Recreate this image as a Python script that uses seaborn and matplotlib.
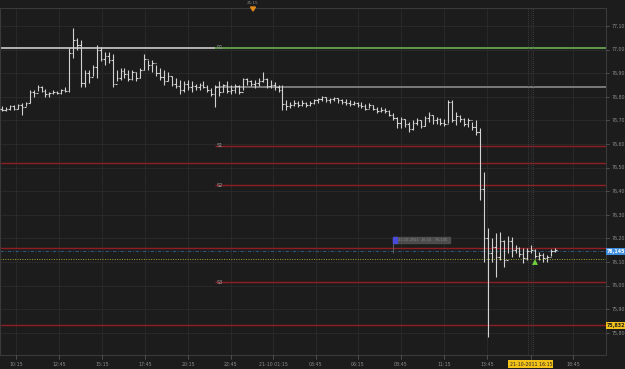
import matplotlib
matplotlib.use("Agg")
import matplotlib.pyplot as plt
import numpy as np
import pandas as pd
import seaborn as sns

# ---------------- data ----------------
high = [76.76, 76.755, 76.765, 76.765, 76.77, 76.775, 76.78, 76.83, 76.83, 76.85,
        76.845, 76.835, 76.82, 76.83, 76.825, 76.835, 76.84, 77.005, 77.09, 77.05,
        77.04, 76.915, 76.915, 76.935, 77.02, 77.01, 76.99, 76.99, 76.98, 76.915,
        76.92, 76.92, 76.915, 76.915, 76.905, 76.92, 76.98, 76.955, 76.955, 76.935,
        76.92, 76.915, 76.905, 76.89, 76.88, 76.87, 76.865, 76.87, 76.865, 76.855,
        76.86, 76.865, 76.85, 76.837, 76.85, 76.865, 76.855, 76.865, 76.85, 76.855,
        76.85, 76.88, 76.88, 76.87, 76.87, 76.88, 76.905, 76.88, 76.87, 76.863,
        76.85, 76.85, 76.786, 76.778, 76.786, 76.782, 76.786, 76.778, 76.782, 76.791,
        76.795, 76.803, 76.799, 76.795, 76.799, 76.795, 76.791, 76.791, 76.786, 76.782,
        76.778, 76.778, 76.769, 76.774, 76.765, 76.757, 76.757, 76.753, 76.744, 76.731,
        76.714, 76.714, 76.706, 76.693, 76.702, 76.71, 76.702, 76.719, 76.736, 76.723,
        76.714, 76.71, 76.706, 76.786, 76.786, 76.736, 76.723, 76.71, 76.71, 76.693,
        76.702, 76.668, 76.481, 76.244, 76.20, 76.223, 76.227, 76.193, 76.21, 76.206,
        76.172, 76.164, 76.158, 76.158, 76.172, 76.153, 76.142, 76.139, 76.13, 76.153,
        76.158]
low = [76.74, 76.74, 76.745, 76.745, 76.75, 76.725, 76.76, 76.775, 76.80, 76.825,
       76.82, 76.80, 76.80, 76.81, 76.81, 76.81, 76.82, 76.82, 76.965, 77.00,
       76.84, 76.84, 76.86, 76.89, 76.88, 76.95, 76.935, 76.945, 76.84, 76.865,
       76.87, 76.88, 76.865, 76.87, 76.865, 76.88, 76.915, 76.915, 76.905, 76.89,
       76.87, 76.85, 76.865, 76.845, 76.837, 76.81, 76.82, 76.83, 76.82, 76.83,
       76.83, 76.837, 76.82, 76.805, 76.757, 76.805, 76.82, 76.815, 76.81, 76.815,
       76.81, 76.83, 76.85, 76.845, 76.837, 76.845, 76.863, 76.837, 76.837, 76.83,
       76.82, 76.744, 76.744, 76.753, 76.761, 76.757, 76.761, 76.757, 76.761, 76.769,
       76.774, 76.782, 76.778, 76.774, 76.782, 76.774, 76.769, 76.765, 76.761, 76.765,
       76.757, 76.753, 76.744, 76.753, 76.744, 76.731, 76.736, 76.731, 76.719, 76.702,
       76.668, 76.668, 76.672, 76.651, 76.659, 76.681, 76.668, 76.676, 76.693, 76.685,
       76.685, 76.681, 76.676, 76.689, 76.693, 76.681, 76.693, 76.676, 76.672, 76.659,
       76.638, 76.363, 76.10, 75.782, 76.10, 76.036, 76.108, 76.079, 76.139, 76.121,
       76.139, 76.121, 76.096, 76.108, 76.139, 76.117, 76.108, 76.10, 76.10, 76.125,
       76.142]
open_ = [76.75, 76.745, 76.75, 76.76, 76.75, 76.765, 76.755, 76.775, 76.82, 76.815,
         76.84, 76.825, 76.81, 76.815, 76.82, 76.815, 76.83, 76.825, 76.985, 77.04,
         77.02, 76.86, 76.90, 76.885, 76.925, 77.00, 76.96, 76.975, 76.955, 76.855,
         76.88, 76.91, 76.895, 76.875, 76.905, 76.88, 76.915, 76.96, 76.935, 76.945,
         76.90, 76.885, 76.865, 76.89, 76.855, 76.845, 76.83, 76.855, 76.84, 76.845,
         76.84, 76.85, 76.84, 76.83, 76.81, 76.84, 76.82, 76.85, 76.825, 76.83,
         76.845, 76.82, 76.875, 76.865, 76.855, 76.86, 76.865, 76.875, 76.845, 76.85,
         76.84, 76.83, 76.77, 76.76, 76.765, 76.775, 76.765, 76.775, 76.765, 76.775,
         76.785, 76.79, 76.80, 76.785, 76.79, 76.795, 76.785, 76.78, 76.775, 76.77,
         76.775, 76.765, 76.76, 76.75, 76.765, 76.75, 76.74, 76.745, 76.74, 76.725,
         76.71, 76.69, 76.705, 76.685, 76.665, 76.69, 76.70, 76.675, 76.71, 76.725,
         76.70, 76.705, 76.69, 76.685, 76.78, 76.70, 76.72, 76.705, 76.685, 76.70,
         76.67, 76.65, 76.41, 76.20, 76.14, 76.165, 76.12, 76.19, 76.11, 76.19,
         76.15, 76.16, 76.135, 76.115, 76.145, 76.15, 76.125, 76.13, 76.115, 76.12,
         76.145]
close = [76.745, 76.75, 76.76, 76.75, 76.765, 76.755, 76.775, 76.82, 76.815, 76.84,
         76.825, 76.81, 76.815, 76.82, 76.815, 76.83, 76.825, 76.985, 77.04, 77.02,
         76.86, 76.90, 76.885, 76.925, 77.00, 76.96, 76.975, 76.955, 76.855, 76.88,
         76.91, 76.895, 76.875, 76.905, 76.88, 76.915, 76.96, 76.935, 76.945, 76.90,
         76.885, 76.865, 76.89, 76.855, 76.845, 76.83, 76.855, 76.84, 76.845, 76.84,
         76.85, 76.84, 76.83, 76.81, 76.84, 76.82, 76.85, 76.825, 76.83, 76.845,
         76.82, 76.875, 76.865, 76.855, 76.86, 76.865, 76.875, 76.845, 76.85, 76.84,
         76.83, 76.77, 76.76, 76.765, 76.775, 76.765, 76.775, 76.765, 76.775, 76.785,
         76.79, 76.80, 76.785, 76.79, 76.795, 76.785, 76.78, 76.775, 76.77, 76.775,
         76.765, 76.76, 76.75, 76.765, 76.75, 76.74, 76.745, 76.74, 76.725, 76.71,
         76.69, 76.705, 76.685, 76.665, 76.69, 76.70, 76.675, 76.71, 76.725, 76.70,
         76.705, 76.69, 76.685, 76.78, 76.70, 76.72, 76.705, 76.685, 76.70, 76.67,
         76.65, 76.41, 76.20, 76.14, 76.165, 76.12, 76.19, 76.11, 76.19, 76.15,
         76.16, 76.135, 76.115, 76.145, 76.15, 76.125, 76.13, 76.115, 76.12, 76.145,
         76.15]

time_labels = ["10:15", "12:45", "15:15", "17:45", "20:15", "22:45", "21-10 01:15",
               "03:45", "06:15", "08:45", "11:15", "13:45", "21-10-2011 16:15", "18:45"]
time_label_bar = [3.54, 14.43, 25.32, 36.2, 47.09, 57.97, 68.61,
                  79.49, 90.13, 101.01, 111.9, 122.78, 133.92, 144.56]

price_ticks = [77.10, 77.00, 76.90, 76.80, 76.70, 76.60, 76.50, 76.40, 76.30,
               76.20, 76.10, 76.00, 75.90, 75.80]

pivot_names = ["R1", "", "S1", "", "S2", "", "S3", ""]
pivot_values = [77.007, 76.842, 76.592, 76.519, 76.426, 76.158, 76.015, 75.833]
bid_level = 76.145
ask_level = 76.113
low_level = 75.832

# ---------------- style ----------------
BG = "#1c1c1c"
GRID = "#2b2b2b"
TXT = "#8c8c8c"
BAR = "#d2d2d2"
RED = "#8e1e22"
SP = 3.95  # pixels per bar

sns.set_theme(style="dark", rc={"axes.facecolor": BG, "figure.facecolor": BG,
                                "axes.edgecolor": "#3a3a3a", "grid.color": GRID})
plt.rcParams["font.family"] = ["DejaVu Sans"]

df = pd.DataFrame({"bar": np.arange(len(close)), "open": open_, "high": high,
                   "low": low, "close": close})

fig = plt.figure(figsize=(6.25, 3.69), dpi=100)
W, H = 625.0, 369.0
ax = fig.add_axes([0 / W, (H - 355) / H, 606 / W, (355 - 8) / H])


def bx(px):
    return (px - 2) / SP


px_per_unit = 236.0
ytop = 77.10 + (26 - 8) / px_per_unit
ybot = 77.10 - (355 - 26) / px_per_unit
xleft = bx(0)
xright = bx(606)
ax.set_xlim(xleft, xright)
ax.set_ylim(ybot, ytop)

# grid
for p in price_ticks:
    ax.axhline(p, color=GRID, lw=0.6, zorder=0)
for t in time_label_bar:
    ax.axvline(t, color=GRID, lw=0.6, zorder=0)

# pivot lines
start_new = bx(215)
ax.hlines(pivot_values[0], xleft, start_new, color="#b4b4b4", lw=1.4, zorder=1)
ax.hlines(pivot_values[0], start_new, xright, color="#5f9a4c", lw=1.4, zorder=1)
ax.hlines(pivot_values[1], start_new, xright, color="#8a8a8a", lw=1.2, zorder=1)
for name, v in zip(pivot_names[2:], pivot_values[2:]):
    x0 = start_new if name else xleft
    ax.hlines(v, x0, xright, color=RED, lw=1.0, zorder=1)
for name, v in zip(pivot_names, pivot_values):
    if name:
        ax.text(start_new + 0.3, v, name, color="#9a9a9a", fontsize=3.6,
                va="center", ha="left", zorder=3)

ax.axhline(bid_level, color="#35628c", lw=0.6, ls=(0, (4, 2, 1, 2)), zorder=1)
ax.axhline(ask_level, color="#a8a832", lw=0.7, ls=(0, (1, 1.5)), zorder=1)

# vertical dotted markers near the current time
for xv in [bx(528), bx(533)]:
    ax.axvline(xv, color="#4a4a4a", lw=0.6, ls=(0, (1, 1.5)), zorder=1)

# OHLC bars
ax.vlines(df["bar"], df["low"], df["high"], color=BAR, lw=0.8, zorder=4)
ax.hlines(df["open"], df["bar"] - 0.38, df["bar"], color=BAR, lw=0.8, zorder=4)
ax.hlines(df["close"], df["bar"], df["bar"] + 0.38, color=BAR, lw=0.8, zorder=4)

# green buy arrow
sns.scatterplot(x=[bx(535)], y=[76.10], marker="^", s=18,
                color="#6fd23a", edgecolor="none", ax=ax, zorder=6)

# annotation box
bx0 = bx(393)
bx1 = bx(450)
ax.add_patch(plt.Rectangle((bx0, 76.18), bx1 - bx0, 0.028, color="#4c4c4c", zorder=5))
ax.add_patch(plt.Rectangle((bx0, 76.18), 1.0, 0.028, color="#4a4ad8", zorder=6))
ax.vlines(bx0, 76.14, 76.18, color="#6a6a6a", lw=0.6, zorder=5)
ax.text(bx0 + 1.3, 76.194, "21-10-2011  16:15   76,145", color="#8a8a8a",
        fontsize=2.6, va="center", ha="left", zorder=7)

# axes styling
ax.set_xticks([])
ax.set_yticks([])
for s in ax.spines.values():
    s.set_color("#3a3a3a")
    s.set_linewidth(0.8)

# right price labels
for p in price_ticks:
    ypx = 26 + (77.10 - p) * px_per_unit
    fig.text(612 / W, (H - ypx) / H, f"{p:.2f}".replace(".", ","), color=TXT,
             fontsize=3.4, va="center", ha="left")
    fig.lines.append(plt.Line2D([606 / W, 609 / W], [(H - ypx) / H] * 2,
                                color="#555555", lw=0.6, transform=fig.transFigure))


def price_badge(value, text, fc, tc):
    ypx = 26 + (77.10 - value) * px_per_unit
    fig.text(607 / W, (H - ypx) / H, text, color=tc, fontsize=3.4, va="center",
             ha="left", fontweight="bold",
             bbox=dict(boxstyle="square,pad=0.25", fc=fc, ec="none"))


price_badge(bid_level, "76,145", "#3f8fe0", "#ffffff")
price_badge(low_level, "75,832", "#f2c21b", "#202020")

# bottom time labels
for lab, b in zip(time_labels, time_label_bar):
    xpx = 2 + b * SP
    if "2011" in lab:
        fig.text(xpx / W, (H - 364) / H, lab, color="#202020", fontsize=3.4,
                 ha="center", va="center",
                 bbox=dict(boxstyle="square,pad=0.25", fc="#f2c21b", ec="none"))
    else:
        fig.text(xpx / W, (H - 364) / H, lab, color=TXT, fontsize=3.4,
                 ha="center", va="center")
    fig.lines.append(plt.Line2D([xpx / W] * 2, [(H - 355) / H, (H - 359) / H],
                                color="#555555", lw=0.6, transform=fig.transFigure))

# top time marker
fig.text(253 / W, (H - 3.5) / H, "21:15", color=TXT, fontsize=3.0,
         ha="center", va="center")
fig.patches.append(plt.Polygon([[250.5 / W, (H - 7) / H], [255.5 / W, (H - 7) / H],
                                [253 / W, (H - 11) / H]], closed=True,
                               color="#e08a1e", transform=fig.transFigure))

fig.savefig("out.png", dpi=100, facecolor=BG)
